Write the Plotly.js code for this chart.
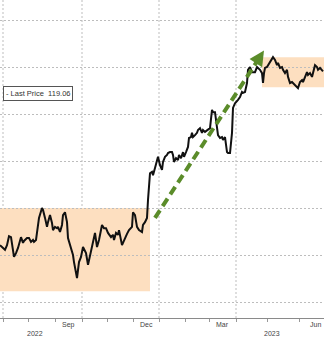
<!DOCTYPE html>
<html>
<head>
<meta charset="utf-8">
<script src="https://cdn.plot.ly/plotly-3.0.1.min.js"></script>
<style>
  html, body { margin: 0; padding: 0; background: #ffffff; }
  #chart { width: 324px; height: 337px; }
</style>
</head>
<body>
<div id="chart"></div>
<script>
// ---- data (session index since 1 Jul 2022, price) ----
const sessions = [-3,0,2,4,6,8,10,11,13,15,18,20,21,24,26,28,30,31,33,34,36,39,40,42,44,45,47,49,50,52,54,55,57,59,60,62,64,65,68,70,71,73,74,76,78,80,83,85,88,90,92,94,96,99,101,103,105,108,110,111,113,115,116,119,121,124,126,129,130,132,134,136,139,140,142,144,145,147,149,150,152,154,155,157,159,160,162,164,165,167,169,170,171,173,175,176,178,180,181,183,185,186,188,189,190,192,194,195,197,199,200,202,204,205,207,209,210,212,214,215,217,219,220,222,224,225,227,229,230,232,235,237,239,240,242,244,245,247,249,250,252,254,257,259,260,261,262,264,265,267,269,270,272,274,275,277,279,280,282,284,285,287,289,290,292,294,295,297,299,300,302,304,305,307,309,310,312,314,315,317,319,320];
const prices = [82.1,81.5,81.1,82.1,84.0,83.8,81.5,79.6,80.4,81.5,83.8,82.6,83.0,83.6,83.6,82.8,83.2,82.8,83.2,84.9,87.9,90.0,89.6,87.9,86.0,87.0,88.5,86.8,85.3,86.0,85.7,86.0,84.9,86.4,88.5,89.1,87.0,83.6,81.7,80.0,78.5,75.7,75.1,78.5,79.6,81.7,80.4,77.9,80.6,82.6,84.7,81.7,83.2,86.4,85.7,85.7,84.7,83.8,84.3,83.2,84.7,84.3,85.3,82.1,83.2,84.5,85.3,86.0,89.1,88.5,86.0,85.3,84.9,86.4,87.0,87.9,91.7,97.4,97.7,97.0,98.5,99.8,100.9,99.1,98.1,99.8,100.9,101.3,101.7,101.9,101.9,101.3,99.8,100.6,100.2,101.3,100.6,101.9,100.9,101.9,103.0,104.9,105.1,106.0,105.1,105.5,106.0,106.6,107.0,106.0,106.6,106.2,106.6,106.8,107.0,110.9,110.4,110.4,106.6,105.5,104.9,105.1,104.5,105.1,101.9,101.7,101.7,106.0,111.3,112.3,113.0,113.6,114.7,114.5,114.7,116.6,119.4,120.0,118.9,118.9,118.9,120.0,119.4,118.7,116.6,118.7,119.8,120.0,120.4,121.1,121.9,122.1,121.5,120.4,120.9,119.8,120.0,119.4,118.7,119.4,117.9,116.6,116.8,116.6,116.2,115.7,115.5,116.8,117.2,116.8,117.9,118.9,118.3,118.7,117.9,118.9,120.4,120.0,119.4,119.8,119.4,119.06];
const lastPrice = 119.06;

// month boundaries (session index of first session of each month)
const monthStarts = [0,25,52,79,104,130,156,182,206,233,264,296,328];
const monthNames  = ['Jul','Aug','Sep','Oct','Nov','Dec','Jan','Feb','Mar','Apr','May','Jun'];
const labeledMonths = ['Sep','Dec','Mar','Jun'];
const quarterStarts = [0,79,156,233];
const yearLabels = ['2022','2023'];
const yearLabelAt = [32,269];

// ---- build ----
const lineTrace = {
  x: sessions, y: prices, type: 'scatter', mode: 'lines',
  line: { color: '#111111', width: 2 },
  hoverinfo: 'skip', showlegend: false
};

const shapes = [];
// highlighted ranges
shapes.push({ type:'rect', xref:'x', yref:'y', x0:-10, x1:147, y0:72.3, y1:90.0,
  fillcolor:'#fddfc0', line:{width:0}, layer:'below' });
shapes.push({ type:'rect', xref:'x', yref:'y', x0:259, x1:340, y0:115.7, y1:122.1,
  fillcolor:'#fddfc0', line:{width:0}, layer:'below' });
// quarter gridlines
quarterStarts.forEach(q => shapes.push({ type:'line', xref:'x', yref:'paper', x0:q, x1:q, y0:0, y1:1,
  line:{color:'#bdbdbd', width:1, dash:'2px,2px'}, layer:'below' }));
// trend arrow (dashed shaft)
shapes.push({ type:'line', xref:'x', yref:'y', x0:152, y0:87.9, x1:255, y1:121.5,
  line:{color:'#5b8c2a', width:4, dash:'9px,5px'}, layer:'above' });

const annotations = [];
// arrow head
annotations.push({ xref:'x', yref:'y', axref:'x', ayref:'y', x:261, y:123.5, ax:254, ay:121.2,
  text:'', showarrow:true, arrowhead:2, arrowsize:1.0, arrowwidth:3, arrowcolor:'#5b8c2a', standoff:0 });
// month labels
for (let i = 0; i < monthNames.length; i++) {
  if (labeledMonths.indexOf(monthNames[i]) < 0) continue;
  annotations.push({ xref:'x', yref:'paper', x:(monthStarts[i] + monthStarts[i+1]) / 2, y:-0.022,
    text: monthNames[i], showarrow:false, xanchor:'center', yanchor:'middle',
    font:{ family:'Liberation Sans, Arial, sans-serif', size:7, color:'#444444' } });
}
// year labels
yearLabels.forEach((yl, i) => annotations.push({ xref:'x', yref:'paper', x:yearLabelAt[i], y:-0.050,
  text: yl, showarrow:false, xanchor:'center', yanchor:'middle',
  font:{ family:'Liberation Sans, Arial, sans-serif', size:7, color:'#444444' } }));
// legend box
annotations.push({ xref:'paper', yref:'paper', x:72.5/324, y:1 - 93.5/318, xanchor:'right', yanchor:'middle',
  text:'- Last Price  ' + lastPrice.toFixed(2), showarrow:false, bgcolor:'#ffffff',
  bordercolor:'#555555', borderwidth:1, borderpad:2,
  font:{ family:'Liberation Sans, Arial, sans-serif', size:7.5, color:'#333333' } });

const layout = {
  width: 324, height: 337,
  margin: { l:0, r:0, t:0, b:19, pad:0 },
  paper_bgcolor:'#ffffff', plot_bgcolor:'rgba(0,0,0,0)',
  showlegend:false,
  xaxis: {
    range:[-3, 321], tickmode:'array', tickvals: monthStarts, showticklabels:false,
    ticks:'outside', ticklen:3, tickcolor:'#999999', tickwidth:1,
    showgrid:false, zeroline:false, showline:true, linecolor:'#8a8a8a', linewidth:1, fixedrange:true
  },
  yaxis: {
    range:[66.6, 134.26], tick0:0, dtick:10, showticklabels:false, ticks:'',
    showgrid:true, gridcolor:'#bdbdbd', gridwidth:1, griddash:'2px,2px',
    zeroline:false, showline:false, fixedrange:true
  },
  shapes: shapes,
  annotations: annotations
};

Plotly.newPlot('chart', [lineTrace], layout, { displayModeBar:false, staticPlot:true });
</script>
</body>
</html>
